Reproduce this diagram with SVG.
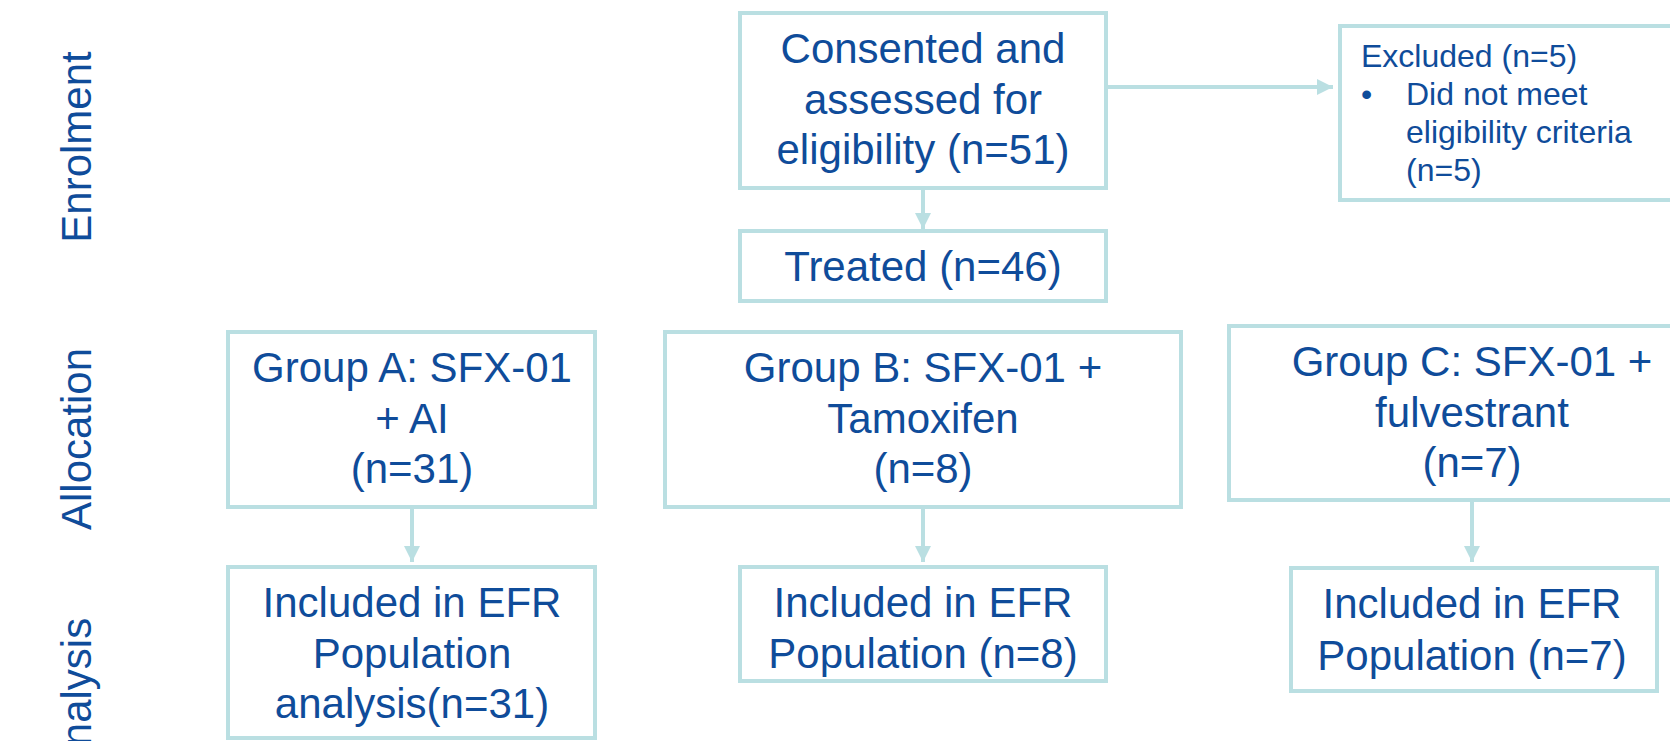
<svg xmlns="http://www.w3.org/2000/svg" width="1670" height="741" viewBox="0 0 1670 741">
<defs>
<style>
.box{fill:#fff;stroke:#BADFE2;stroke-width:4}
.t{font-family:"Liberation Sans",Arial,sans-serif;font-size:42px;fill:#0F4C9A;text-anchor:middle}
.s{font-family:"Liberation Sans",Arial,sans-serif;font-size:32px;fill:#0F4C9A}
.lab{font-family:"Liberation Sans",Arial,sans-serif;font-size:42px;fill:#0F4C9A;text-anchor:middle}
.c{stroke:#BADFE2;stroke-width:4;fill:none}
</style>
<marker id="ah" markerUnits="userSpaceOnUse" markerWidth="18" markerHeight="18" viewBox="0 0 18 18" refX="16" refY="9" orient="auto">
<path d="M0,1 L16,9 L0,17 Z" fill="#BADFE2"/>
</marker>
</defs>
<rect width="1670" height="741" fill="#fff"/>
<g id="labels">
<text class="lab" transform="translate(91,147) rotate(-90)">Enrolment</text>
<text class="lab" transform="translate(91,439) rotate(-90)">Allocation</text>
<text class="lab" transform="translate(91,696) rotate(-90)">Analysis</text>
</g>
<g id="connectors">
<line class="c" x1="923" y1="190" x2="923" y2="229" marker-end="url(#ah)"/>
<line class="c" x1="1108" y1="87" x2="1333" y2="87" marker-end="url(#ah)"/>
<line class="c" x1="412" y1="507" x2="412" y2="562" marker-end="url(#ah)"/>
<line class="c" x1="923" y1="507" x2="923" y2="562" marker-end="url(#ah)"/>
<line class="c" x1="1472" y1="500" x2="1472" y2="562" marker-end="url(#ah)"/>
</g>
<g id="consented">
<rect class="box" x="740" y="13" width="366" height="175"/>
<text class="t" x="923" y="63">Consented and</text>
<text class="t" x="923" y="114">assessed for</text>
<text class="t" x="923" y="164">eligibility (n=51)</text>
</g>
<g id="excluded">
<rect class="box" x="1340" y="26" width="360" height="174"/>
<text class="s" x="1361" y="67">Excluded (n=5)</text>
<text class="s" x="1361" y="105">•</text>
<text class="s" x="1406" y="105">Did not meet</text>
<text class="s" x="1406" y="143">eligibility criteria</text>
<text class="s" x="1406" y="181">(n=5)</text>
</g>
<g id="treated">
<rect class="box" x="740" y="231" width="366" height="70"/>
<text class="t" x="923" y="281">Treated (n=46)</text>
</g>
<g id="groupA">
<rect class="box" x="228" y="332" width="367" height="175"/>
<text class="t" x="412" y="382">Group A: SFX-01</text>
<text class="t" x="412" y="433">+ AI</text>
<text class="t" x="412" y="483">(n=31)</text>
</g>
<g id="groupB">
<rect class="box" x="665" y="332" width="516" height="175"/>
<text class="t" x="923" y="382">Group B: SFX-01 +</text>
<text class="t" x="923" y="433">Tamoxifen</text>
<text class="t" x="923" y="483">(n=8)</text>
</g>
<g id="groupC">
<rect class="box" x="1229" y="326" width="500" height="174"/>
<text class="t" x="1472" y="376">Group C: SFX-01 +</text>
<text class="t" x="1472" y="427">fulvestrant</text>
<text class="t" x="1472" y="477">(n=7)</text>
</g>
<g id="inclA">
<rect class="box" x="228" y="567" width="367" height="171"/>
<text class="t" x="412" y="617">Included in EFR</text>
<text class="t" x="412" y="668">Population</text>
<text class="t" x="412" y="718">analysis(n=31)</text>
</g>
<g id="inclB">
<rect class="box" x="740" y="567" width="366" height="114"/>
<text class="t" x="923" y="617">Included in EFR</text>
<text class="t" x="923" y="668">Population (n=8)</text>
</g>
<g id="inclC">
<rect class="box" x="1291" y="568" width="366" height="123"/>
<text class="t" x="1472" y="618">Included in EFR</text>
<text class="t" x="1472" y="670">Population (n=7)</text>
</g>
</svg>
